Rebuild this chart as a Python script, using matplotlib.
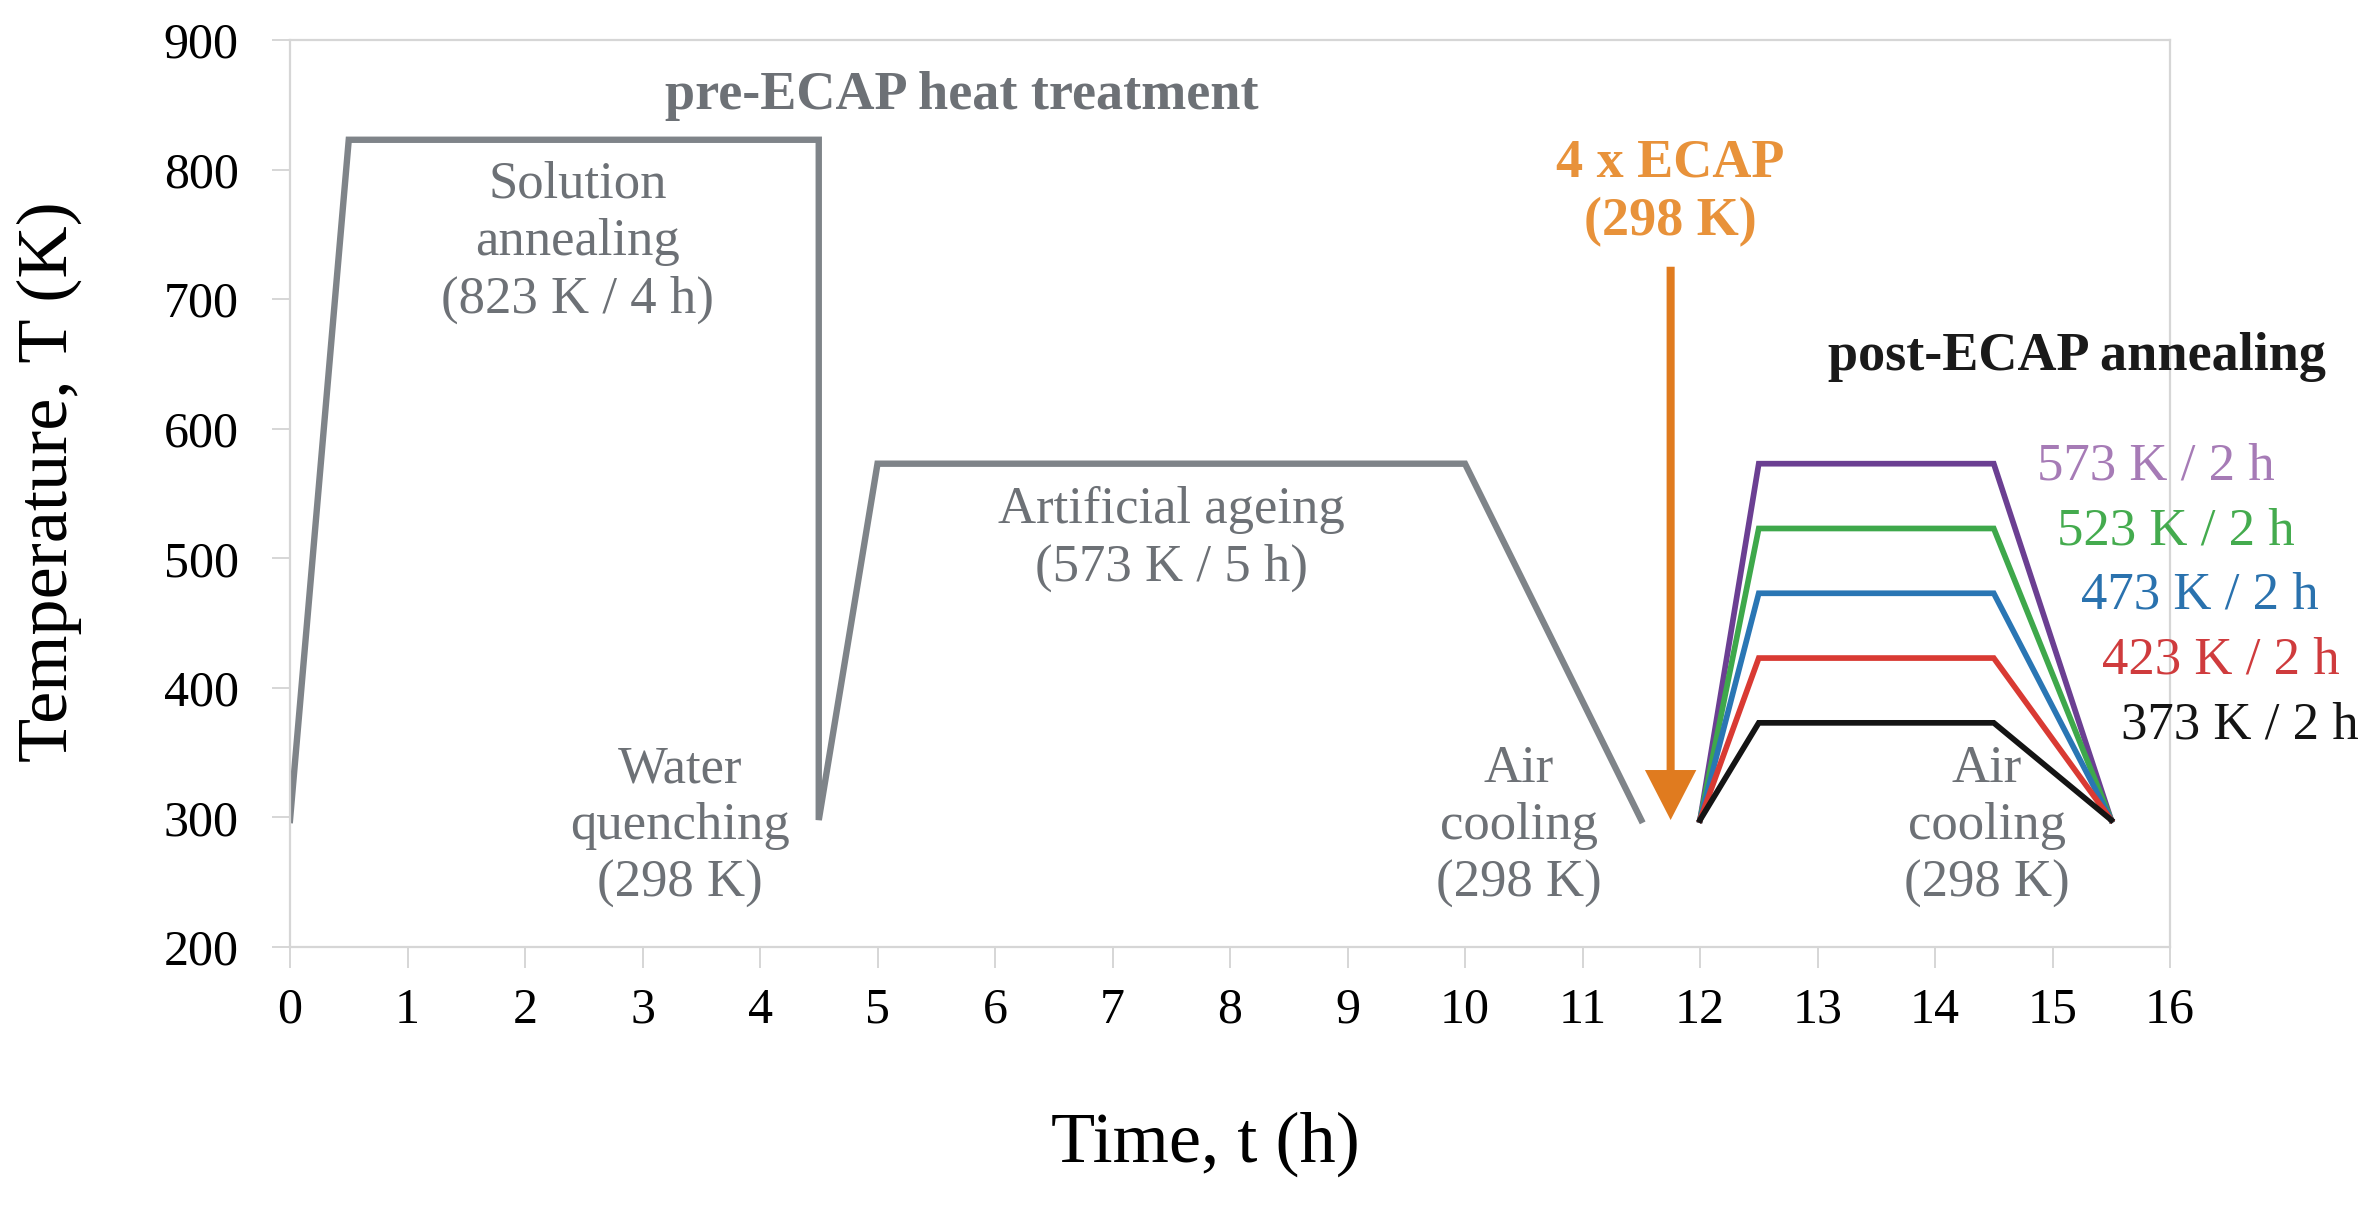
import matplotlib
matplotlib.use('Agg')
import matplotlib.pyplot as plt

plt.rcParams['font.family'] = ['Liberation Serif', 'DejaVu Serif']

# pre-ECAP heat treatment route (time in h, temperature in K)
pre_t = [0, 0.5, 4.5, 4.5, 5, 10, 11.5]
pre_T = [298, 823, 823, 298, 573, 573, 298]

# post-ECAP annealing routes
post_t = [12, 12.5, 14.5, 15.5]
post_temps = [573, 523, 473, 423, 373]
post_line_colors = ['#6b3f92', '#3ea84b', '#2a76b4', '#d93a33', '#141414']
post_text_colors = ['#a67bb6', '#44ab4e', '#2a72ae', '#cf3b3d', '#141414']
post_label_x = [14.87, 15.04, 15.24, 15.42, 15.58]
post_labels = ['573 K / 2 h', '523 K / 2 h', '473 K / 2 h', '423 K / 2 h', '373 K / 2 h']

ecap_t = 11.75
ecap_from, ecap_to = 725, 298

x_ticks = list(range(0, 17))
y_ticks = list(range(200, 901, 100))

gray = '#7f8489'
text_gray = '#6d7176'
light = '#d6d6d6'

fig = plt.figure(figsize=(23.74, 12.07), dpi=100)
ax = fig.add_axes([0.12216, 0.21541, 0.79191, 0.75145])

ax.plot(pre_t, pre_T, color=gray, lw=4.6, solid_joinstyle='miter')
for T, c in zip(post_temps, post_line_colors):
    ax.plot(post_t, [298, T, T, 298], color=c, lw=4.1, solid_joinstyle='miter')

ax.annotate('', xy=(ecap_t, ecap_to), xytext=(ecap_t, ecap_from),
            arrowprops=dict(facecolor='#e07b1f', edgecolor='none', width=5.8,
                            headwidth=37, headlength=36, shrink=0))

ax.set_xlim(0, 16)
ax.set_ylim(200, 900)
ax.set_xticks(x_ticks)
ax.set_yticks(y_ticks)
for s in ax.spines.values():
    s.set_color(light)
    s.set_linewidth(1.6)
ax.tick_params(axis='x', direction='out', length=15, width=1.4, color=light,
               labelsize=36, pad=14)
ax.tick_params(axis='y', direction='out', length=13, width=1.4, color=light,
               labelsize=36, pad=24)

ax.text(0.487, -0.237, 'Time, t (h)', transform=ax.transAxes, fontsize=52,
        ha='center', va='baseline')
ax.text(-0.1186, 0.513, 'Temperature, T (K)', transform=ax.transAxes, fontsize=52,
        rotation=90, rotation_mode='anchor', ha='center', va='baseline')

fs = 38
ls = 1.25
ax.text(5.72, 857, 'pre-ECAP heat treatment', color=text_gray, fontsize=39,
        fontweight='bold', ha='center', va='center')
ax.text(2.45, 744, 'Solution\nannealing\n(823 K / 4 h)', color=text_gray, fontsize=fs,
        ha='center', va='center', linespacing=ls)
ax.text(3.32, 293, 'Water\nquenching\n(298 K)', color=text_gray, fontsize=fs,
        ha='center', va='center', linespacing=ls)
ax.text(7.50, 515, 'Artificial ageing\n(573 K / 5 h)', color=text_gray, fontsize=fs,
        ha='center', va='center', linespacing=ls)
ax.text(10.46, 293, 'Air\ncooling\n(298 K)', color=text_gray, fontsize=fs,
        ha='center', va='center', linespacing=ls)
ax.text(14.44, 293, 'Air\ncooling\n(298 K)', color=text_gray, fontsize=fs,
        ha='center', va='center', linespacing=ls)
ax.text(ecap_t, 782, '4 x ECAP\n(298 K)', color='#e8923a', fontsize=39,
        fontweight='bold', ha='center', va='center', linespacing=ls)
ax.text(15.21, 655, 'post-ECAP annealing', color='#1a1a1a', fontsize=39,
        fontweight='bold', ha='center', va='center')

for x, T, lab, c in zip(post_label_x, post_temps, post_labels, post_text_colors):
    ax.text(x, T - 2, lab, color=c, fontsize=fs, ha='left', va='center')

fig.savefig('out.png', dpi=100)
